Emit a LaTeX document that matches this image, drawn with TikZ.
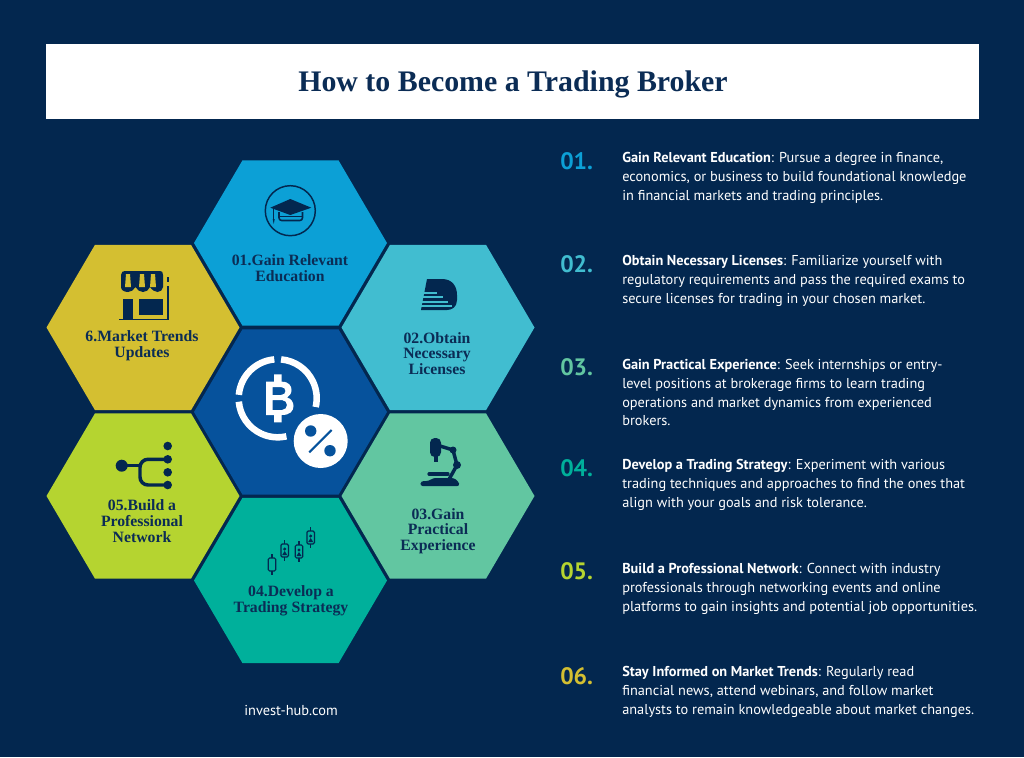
\documentclass[tikz,border=0pt]{standalone}
\usepackage{fontspec}
\setmainfont{PT Sans}
\newfontfamily\headfont{Liberation Serif}
\usetikzlibrary{positioning}
\definecolor{navy}{HTML}{03274F}
\definecolor{inkblue}{HTML}{0B2C55}
\definecolor{hexone}{HTML}{0CA0D6}
\definecolor{hextwo}{HTML}{41BDD0}
\definecolor{hexthree}{HTML}{62C6A1}
\definecolor{hexfour}{HTML}{00B09B}
\definecolor{hexfive}{HTML}{B5D430}
\definecolor{hexsix}{HTML}{D4BF31}
\definecolor{hexmid}{HTML}{06529C}
\newcommand{\hexcell}[3]{\fill [#1] (#2-96.5,#3) -- (#2-48,#3-82.7) -- (#2+48,#3-82.7) -- (#2+96.5,#3) -- (#2+48,#3+82.7) -- (#2-48,#3+82.7) -- cycle;}
\tikzset{
  hexlabel/.style={font=\headfont\bfseries\fontsize{11.8}{11.8}\selectfont,text=inkblue,align=center},
  steptext/.style={font=\fontsize{10.75}{14.1}\selectfont,text=white,align=left,anchor=north west,inner sep=0pt},
  stepnum/.style={font=\bfseries\fontsize{17.8}{20}\selectfont,anchor=west,inner sep=0pt},
  icon/.style={fill=navy,draw=none},
  iconline/.style={draw=navy,line width=1.1pt,line cap=round}
}
\begin{document}
\begin{tikzpicture}[x=0.75pt,y=-0.75pt]
\useasboundingbox (0,0) rectangle (1024,757);
\fill [navy] (0,0) rectangle (1024,757);
% TITLE BAND
\fill [white] (46,44) rectangle (979,119);
\node [font=\headfont\bfseries\fontsize{22.4}{24}\selectfont,text=inkblue] (title) at (513,84.5) {How to Become a Trading Broker};
% HEXAGONS
\hexcell{hexone}{290.5}{243}
\hexcell{hextwo}{438}{327.5}
\hexcell{hexthree}{438}{496}
\hexcell{hexfour}{290.5}{580.5}
\hexcell{hexfive}{143}{496}
\hexcell{hexsix}{143}{327.5}
\hexcell{hexmid}{290.5}{412}
% HEX LABELS
\node [hexlabel] (labelone) at (290,268) {01.Gain Relevant\\Education};
\node [hexlabel] (labeltwo) at (437,353.5) {02.Obtain\\Necessary\\Licenses};
\node [hexlabel] (labelthree) at (438,531) {03.Gain\\Practical\\Experience};
\node [hexlabel] (labelfour) at (291,601) {04.Develop a\\Trading Strategy};
\node [hexlabel] (labelfive) at (142,521) {05.Build a\\Professional\\Network};
\node [hexlabel] (labelsix) at (142,345.5) {6.Market Trends\\Updates};
% CAP ICON
\draw [iconline] (290.3,210.7) circle (25);
\fill [icon] (270.3,207.7) -- (290.3,199) -- (311.3,207.7) -- (290.3,215) -- cycle;
\draw [navy,line width=1.2pt,rounded corners=2pt] (279,212) -- (279,220.5) -- (302.5,220.5) -- (302.5,212);
\fill [icon] (279,215.5) rectangle (302.5,217);
\draw [navy,line width=1pt] (273.7,208) -- (273.7,221);
\fill [icon] (272.7,219) -- (274.7,219) -- (273.7,224) -- cycle;
% LICENSE ICON
\fill [icon] (427,279) -- (442,279) .. controls (452,279) and (457,286) .. (457,295) -- (457,300) .. controls (457,307) and (452,310) .. (447,310) -- (421,310) -- cycle;
\foreach \y/\xa in {293/437,297/443,302/448,306/452} \draw [hextwo,line width=1.1pt] (419,\y) -- (\xa,\y);
% STORE ICON
\fill [icon] (121,275) .. controls (121,272) and (123,271) .. (125,271) -- (160,271) .. controls (162,271) and (163,272) .. (163,275) -- (163,287) .. controls (163,290) and (160,292) .. (157.5,292) .. controls (155,292) and (152,290) .. (150,287) .. controls (149,290) and (146,292) .. (143,292) .. controls (140,292) and (137,290) .. (135.5,287) .. controls (134,290) and (131,292) .. (128,292) .. controls (124,292) and (121,290) .. (121,287) -- cycle;
\foreach \xa in {128,142,153} \fill [hexsix] (\xa-2,274) -- (\xa+2,274) -- (\xa+3,287) -- (\xa-3,287) -- cycle;
\fill [icon] (123,299) rectangle (133,319);
\fill [icon] (139,299) rectangle (163,315);
\draw [navy,line width=1.2pt] (119,319.5) -- (168,319.5) -- (168,286);
\draw [navy,line width=1.2pt] (168,277) -- (168,282);
% NETWORK ICON
\fill [icon] (121.7,465.7) circle (6);
\draw [navy,line width=2.6pt,rounded corners=5pt] (121.7,465.7) -- (133,465.7);
\draw [navy,line width=2.6pt,rounded corners=6pt] (167.7,459.3) -- (140,459.3) -- (140,485) -- (167.7,485);
\draw [navy,line width=2.6pt] (133,465.7) -- (140,465.7);
\foreach \y in {446,459.3,472.3,485} \fill [icon] (167.7,\y) circle (4.3);
% MICROSCOPE ICON
\fill [icon,rounded corners=3.5pt] (430,438) rectangle (441,457);
\fill [icon] (434,455) rectangle (438,462);
\draw [navy,line width=2.6pt] (440,446) -- (453,450) -- (457,465) -- (447,483);
\fill [icon] (453,450) circle (3.5);
\fill [icon] (457,465) circle (4);
\draw [navy,line width=2.4pt,line cap=round] (429,474) -- (448,474);
\fill [icon,rounded corners=2pt] (420,486) -- (421,481) -- (429,481) -- (433,478) -- (454,478) -- (458,481) -- (460,486) -- cycle;
% CANDLE ICON
\foreach \xa/\ya in {272/558,284.7/544,299/545,310.7/531} {
  \draw [navy,line width=0.9pt,rounded corners=1pt] (\xa-3.7,\ya) rectangle (\xa+3.7,\ya+13);
  \draw [navy,line width=0.9pt] (\xa,\ya-4) -- (\xa,\ya) (\xa,\ya+13) -- (\xa,\ya+17);
}
\foreach \xa/\ya in {284.7/544,299/545,310.7/531} {
  \fill [icon] (\xa,\ya+5) circle (1.7);
  \fill [icon] (\xa,\ya+7) -- (\xa+2.5,\ya+11) -- (\xa-2.5,\ya+11) -- cycle;
}
% COIN ICON
\draw [white,line width=4.9pt] (281.1,359.4) arc (-85:13:39);
\draw [white,line width=4.9pt] (274.3,359.4) arc (-95:-175:39);
\draw [white,line width=4.9pt] (238.8,401.7) arc (-185:-283:39);
\fill [white,even odd rule] (266,381.7) -- (282,381.7) .. controls (289,381.7) and (291.5,386) .. (291.5,390) .. controls (291.5,393.5) and (289.5,396) .. (287,397.5) .. controls (291,398.5) and (293.5,402) .. (293.5,406) .. controls (293.5,411) and (290,415) .. (282,415) -- (266,415) -- cycle
  (272.5,387) -- (281,387) .. controls (284,387) and (285.5,389) .. (285.5,391) .. controls (285.5,393) and (284,395) .. (281,395) -- (272.5,395) -- cycle
  (272.5,400) -- (282,400) .. controls (285,400) and (287,402.5) .. (287,405) .. controls (287,407.5) and (285,410) .. (282,410) -- (272.5,410) -- cycle;
\fill [white] (274,374.3) rectangle (281.7,382) (274,414.8) rectangle (281.7,422.3);
\fill [white] (320.7,441) circle (27);
\fill [hexmid] (310.7,431) circle (5.7) (330,450.7) circle (5.7);
\draw [hexmid,line width=1.6pt] (331.7,430) -- (309.3,452.3);
% STEP NUMBERS
\node [stepnum,text=hexone] (numone) at (560,161) {01.};
\node [stepnum,text=hextwo] (numtwo) at (560,264) {02.};
\node [stepnum,text=hexthree] (numthree) at (560,367) {03.};
\node [stepnum,text=hexfour] (numfour) at (560,468) {04.};
\node [stepnum,text=hexfive] (numfive) at (560,571) {05.};
\node [stepnum,text=hexsix] (numsix) at (560,676) {06.};
% STEP TEXTS
\node [steptext] (textone) at (622,152) {\textbf{Gain Relevant Education}: Pursue a degree in finance,\\economics, or business to build foundational knowledge\\in financial markets and trading principles.};
\node [steptext] (texttwo) at (622,255) {\textbf{Obtain Necessary Licenses}: Familiarize yourself with\\regulatory requirements and pass the required exams to\\secure licenses for trading in your chosen market.};
\node [steptext] (textthree) at (622,359) {\textbf{Gain Practical Experience}: Seek internships or entry-\\level positions at brokerage firms to learn trading\\operations and market dynamics from experienced\\brokers.};
\node [steptext] (textfour) at (622,459) {\textbf{Develop a Trading Strategy}: Experiment with various\\trading techniques and approaches to find the ones that\\align with your goals and risk tolerance.};
\node [steptext] (textfive) at (622,563) {\textbf{Build a Professional Network}: Connect with industry\\professionals through networking events and online\\platforms to gain insights and potential job opportunities.};
\node [steptext] (textsix) at (622,666) {\textbf{Stay Informed on Market Trends}: Regularly read\\financial news, attend webinars, and follow market\\analysts to remain knowledgeable about market changes.};
% FOOTER
\node [font=\fontsize{10.8}{12}\selectfont,text=white] (footer) at (291,710) {invest-hub.com};
\end{tikzpicture}
\end{document}
